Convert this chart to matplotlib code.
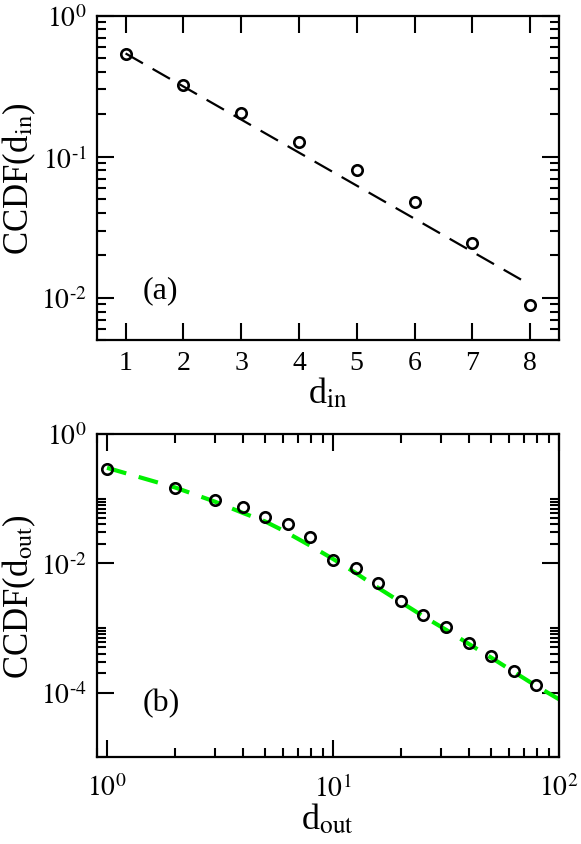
import numpy as np
import matplotlib
matplotlib.use('Agg')
import matplotlib.pyplot as plt
from matplotlib.ticker import FixedLocator, FuncFormatter, NullLocator, NullFormatter

plt.rcParams['font.family'] = ['Liberation Serif', 'DejaVu Serif']
plt.rcParams['mathtext.fontset'] = 'stix'

# panel (a): in-degree CCDF
din = [1, 2, 3, 4, 5, 6, 7, 8]
ccdf_in = [0.539, 0.325, 0.203, 0.128, 0.0803, 0.0475, 0.0244, 0.00893]
fit_in_x = [1, 8]
fit_in_y = [0.54, 0.0124]

# panel (b): out-degree CCDF (log-binned)
dout = [1, 2, 3, 4, 5, 6.3, 7.9, 10, 12.6, 15.8, 20, 25.1, 31.6, 39.8, 50.1, 63.1, 79.4]
ccdf_out = [0.284, 0.147, 0.0968, 0.0737, 0.0515, 0.0405, 0.0258, 0.01125, 0.00846,
            0.00488, 0.00260, 0.00160, 0.00105, 0.000588, 0.000365, 0.000218, 0.000130]
fit_out_x = [1, 2, 3, 4, 5, 6, 7.9, 10, 12.6, 15.8, 20, 25, 31.6, 39.8, 50, 63, 79, 100]
fit_out_y = [0.30, 0.149, 0.090, 0.060, 0.0445, 0.0323, 0.0189, 0.0117, 0.0071, 0.0042,
             0.0025, 0.00153, 0.00094, 0.00057, 0.00035, 0.00021, 0.000128, 0.000079]

yticks_a = [1e-2, 1e-1, 1e0]
yticks_b = [1e-4, 1e-2, 1e0]
xticks_b = [1e0, 1e1, 1e2]

def pow10(v, pos):
    e = int(round(np.log10(v)))
    # short hyphen instead of the wide math minus, like the original
    return r'$10^{%s}$' % (str(e).replace('-', '\u2010'))

def style(ax):
    for s in ax.spines.values():
        s.set_linewidth(1.6)
    ax.tick_params(which='both', direction='in', top=True, right=True, width=1.5,
                   labelsize=20)
    ax.tick_params(which='major', length=12, pad=7)
    ax.tick_params(which='minor', length=6.5)

fig = plt.figure(figsize=(5.81, 8.45), dpi=100)

# (a)
ax1 = fig.add_axes([0.1664, 0.5959, 0.7957, 0.3844])
ax1.plot(fit_in_x, fit_in_y, color='black', lw=1.6, dashes=(9, 5))
ax1.plot(din, ccdf_in, 'o', mfc='none', mec='black', ms=7.5, mew=1.9)
ax1.set_yscale('log')
ax1.set_xlim(0.5, 8.5)
ax1.set_ylim(0.005, 1)
ax1.set_xticks(din)
ax1.xaxis.set_minor_locator(NullLocator())
ax1.yaxis.set_major_locator(FixedLocator(yticks_a))
ax1.yaxis.set_major_formatter(FuncFormatter(pow10))
ax1.yaxis.set_minor_formatter(NullFormatter())
style(ax1)
ax1.set_xlabel(r'd$_{\mathrm{in}}$', fontsize=26, labelpad=0)
ax1.set_ylabel(r'CCDF(d$_{\mathrm{in}}$)', fontsize=25)
ax1.yaxis.set_label_coords(-0.128, 0.5)
ax1.text(0.137, 0.155, '(a)', transform=ax1.transAxes, fontsize=23,
         ha='center', va='center')

# (b)
ax2 = fig.add_axes([0.1664, 0.1026, 0.7957, 0.3826])
ax2.plot(fit_out_x, fit_out_y, color='#00f000', lw=3, dashes=(4.8, 3.1))
ax2.plot(dout, ccdf_out, 'o', mfc='none', mec='black', ms=7.5, mew=1.9)
ax2.set_xscale('log')
ax2.set_yscale('log')
ax2.set_xlim(0.9, 100)
ax2.set_ylim(1e-5, 1)
ax2.xaxis.set_major_locator(FixedLocator(xticks_b))
ax2.xaxis.set_major_formatter(FuncFormatter(pow10))
ax2.xaxis.set_minor_locator(FixedLocator([k * 10.0**e for e in (-1, 0, 1) for k in range(2, 10)]))
ax2.xaxis.set_minor_formatter(NullFormatter())
ax2.yaxis.set_major_locator(FixedLocator(yticks_b))
ax2.yaxis.set_major_formatter(FuncFormatter(pow10))
ax2.yaxis.set_minor_locator(FixedLocator([k * 10.0**e for e in (-6, -4, -2) for k in range(2, 11)]))
ax2.yaxis.set_minor_formatter(NullFormatter())
style(ax2)
ax2.tick_params(axis='x', which='major', pad=12)
ax2.set_xlabel(r'd$_{\mathrm{out}}$', fontsize=26, labelpad=0)
ax2.set_ylabel(r'CCDF(d$_{\mathrm{out}}$)', fontsize=25)
ax2.yaxis.set_label_coords(-0.128, 0.5)
ax2.text(0.139, 0.168, '(b)', transform=ax2.transAxes, fontsize=23,
         ha='center', va='center')

fig.savefig('out.png', dpi=100)
